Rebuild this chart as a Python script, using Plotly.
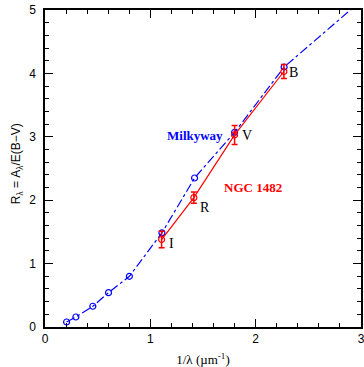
import plotly.graph_objects as go

# Milky Way extinction curve
mw_x = [0.205, 0.293, 0.454, 0.603, 0.801, 1.11, 1.42, 1.80, 2.27, 3.2]
mw_y = [0.079, 0.158, 0.327, 0.542, 0.80, 1.485, 2.35, 3.07, 4.10, 5.43]

# NGC 1482 measurements
ngc_x = [1.107, 1.413, 1.80, 2.268]
ngc_y = [1.38, 2.04, 3.03, 4.03]
ngc_err = [0.13, 0.09, 0.15, 0.11]
band_labels = ["I", "R", "V", "B"]
band_lx = [1.20, 1.52, 1.92, 2.36]
band_ly = [1.32, 1.88, 3.02, 4.02]

fig = go.Figure()
fig.add_trace(go.Scatter(
    x=mw_x, y=mw_y, mode="lines+markers",
    line=dict(color="blue", width=1.2, dash="dashdot"),
    marker=dict(symbol="circle-open", size=6, color="blue", line=dict(width=1.2)),
    cliponaxis=True, showlegend=False))
fig.add_trace(go.Scatter(
    x=ngc_x, y=ngc_y, mode="lines+markers",
    line=dict(color="red", width=1.2),
    marker=dict(symbol="circle-open", size=6, color="red", line=dict(width=1.2)),
    error_y=dict(type="data", array=ngc_err, color="red", thickness=1.5, width=3),
    showlegend=False))

for t, x, y in zip(band_labels, band_lx, band_ly):
    fig.add_annotation(x=x, y=y, text=t, showarrow=False,
                       font=dict(family="Liberation Serif", size=14, color="black"))
fig.add_annotation(x=1.42, y=3.02, text="<b>Milkyway</b>", showarrow=False,
                   font=dict(family="Liberation Serif", size=13, color="blue"))
fig.add_annotation(x=1.97, y=2.20, text="<b>NGC 1482</b>", showarrow=False,
                   font=dict(family="Liberation Serif", size=13, color="red"))
# y-axis title
fig.add_annotation(xref="paper", yref="paper", x=-0.088, y=0.514, textangle=-90,
                   xanchor="center", yanchor="middle",
                   text="R<sub>λ</sub> = A<sub>λ</sub>/E(B−V)", showarrow=False,
                   font=dict(family="Liberation Sans", size=12, color="black"))

axis_common = dict(showgrid=False, zeroline=False, showline=True, linecolor="black",
                   linewidth=1.5, mirror="ticks", ticks="inside", ticklen=8, tickwidth=1,
                   tickcolor="black", automargin=False, ticklabeloverflow="allow",
                   tickfont=dict(family="Liberation Sans", size=12, color="black"))
fig.update_xaxes(range=[0, 3], dtick=1,
                 minor=dict(dtick=0.2, ticks="inside", ticklen=4, tickcolor="black"),
                 title=dict(text="1/λ (µm<sup>-1</sup>)",
                            font=dict(family="Liberation Serif", size=13, color="black")),
                 **axis_common)
fig.update_yaxes(range=[0, 5], dtick=1, ticklabelstandoff=5,
                 minor=dict(dtick=0.2, ticks="inside", ticklen=4, tickcolor="black"),
                 **axis_common)
fig.update_layout(width=364, height=367, margin=dict(l=45, r=3, t=10, b=40, autoexpand=False),
                  plot_bgcolor="white", paper_bgcolor="white")
fig.write_html("out.html", config={"displayModeBar": False},
               post_script="document.body.style.margin='0';document.body.style.overflow='hidden';")
